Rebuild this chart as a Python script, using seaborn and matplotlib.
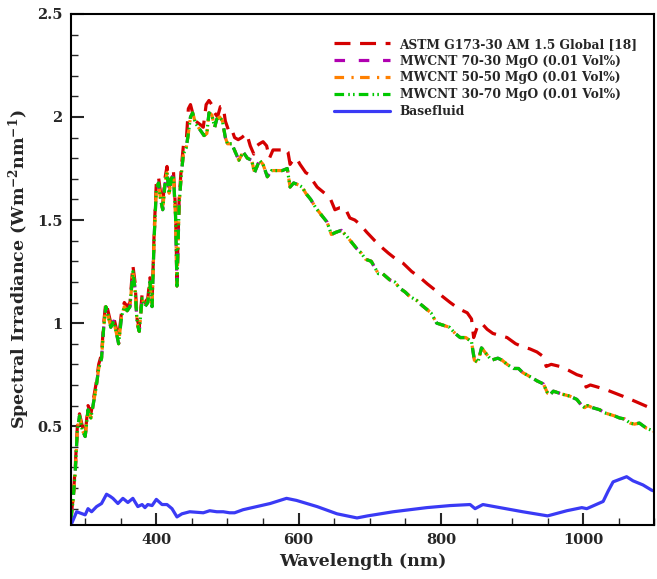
import numpy as np
import pandas as pd
import seaborn as sns
import matplotlib.pyplot as plt
from matplotlib.ticker import MultipleLocator, FuncFormatter

# Spectral irradiance (W m^-2 nm^-1)
astm_wl = [280, 283, 286, 289, 292, 296, 300, 304, 308, 311, 315, 319, 323, 326, 329, 332,
           336, 340, 344, 347, 351, 355, 359, 363, 367, 370, 373, 376, 380, 384, 388, 391,
           394, 397, 400, 403, 406, 409, 412, 415, 418, 421, 424, 427, 429, 432, 435, 438,
           442, 445, 448, 451, 455, 459, 463, 466, 470, 474, 478, 482, 486, 490, 494, 497,
           501, 505, 510, 515, 520, 527, 532, 537, 541, 545, 550, 555, 559, 564, 569, 575,
           580, 585, 588, 592, 597, 602, 606, 610, 615, 620, 626, 633, 640, 645, 651, 658,
           665, 672, 679, 686, 696, 707, 716, 726, 737, 747, 759, 771, 781, 792, 802, 813,
           825, 837, 843, 846, 851, 857, 865, 873, 883, 893, 905, 915, 925, 935, 943, 948,
           955, 967, 980, 991, 1000, 1004, 1010, 1020, 1030, 1045, 1056, 1070, 1080, 1090, 1100]
astm_irr = [0.06, 0.15, 0.30, 0.50, 0.56, 0.50, 0.46, 0.60, 0.56, 0.62, 0.70, 0.80, 0.85, 1.00, 1.10, 1.06,
            1.00, 1.03, 0.97, 0.93, 1.05, 1.10, 1.08, 1.10, 1.28, 1.20, 1.02, 0.98, 1.14, 1.10, 1.12, 1.22,
            1.10, 1.45, 1.68, 1.71, 1.63, 1.58, 1.70, 1.76, 1.66, 1.72, 1.74, 1.55, 1.20, 1.60, 1.75, 1.86,
            1.88, 2.04, 2.06, 2.02, 1.98, 1.97, 1.96, 1.95, 2.06, 2.08, 2.06, 2.02, 2.00, 2.05, 2.05, 1.98,
            1.94, 1.95, 1.90, 1.89, 1.90, 1.92, 1.86, 1.82, 1.86, 1.87, 1.88, 1.86, 1.80, 1.84, 1.84, 1.84,
            1.85, 1.83, 1.77, 1.79, 1.80, 1.77, 1.75, 1.73, 1.72, 1.69, 1.66, 1.64, 1.62, 1.60, 1.55, 1.56,
            1.56, 1.51, 1.50, 1.48, 1.44, 1.40, 1.37, 1.34, 1.31, 1.29, 1.25, 1.22, 1.19, 1.16, 1.13, 1.10,
            1.07, 1.05, 1.02, 0.93, 0.98, 1.00, 0.97, 0.95, 0.94, 0.93, 0.90, 0.885, 0.875, 0.86, 0.84, 0.79,
            0.80, 0.79, 0.77, 0.75, 0.74, 0.69, 0.70, 0.69, 0.68, 0.66, 0.645, 0.625, 0.61, 0.595, 0.58]

mwcnt_wl = [280, 283, 286, 289, 292, 296, 300, 304, 308, 311, 315, 319, 323, 326, 329, 332,
            336, 340, 344, 347, 351, 355, 359, 363, 367, 370, 373, 376, 380, 384, 388, 391,
            394, 397, 400, 403, 406, 409, 412, 415, 418, 421, 424, 427, 429, 432, 435, 438,
            442, 445, 448, 451, 455, 459, 463, 467, 471, 474, 478, 482, 485, 489, 493, 497,
            500, 506, 511, 516, 522, 528, 534, 538, 545, 550, 556, 562, 570, 577, 584, 588,
            593, 600, 605, 610, 617, 624, 633, 640, 646, 652, 660, 668, 675, 682, 688, 694,
            702, 712, 718, 728, 735, 742, 750, 756, 766, 772, 779, 786, 794, 803, 812, 820,
            827, 835, 843, 847, 852, 857, 864, 871, 880, 886, 893, 902, 909, 915, 928, 935,
            944, 950, 954, 958, 971, 981, 991, 998, 1002, 1006, 1013, 1023, 1030, 1044, 1051,
            1058, 1066, 1072, 1079, 1089, 1100]
mwcnt_7030 = [0.05, 0.14, 0.28, 0.48, 0.55, 0.48, 0.45, 0.58, 0.54, 0.60, 0.68, 0.78, 0.83, 0.98, 1.08, 1.04,
              0.98, 1.01, 0.95, 0.90, 1.03, 1.08, 1.06, 1.08, 1.25, 1.17, 1.00, 0.96, 1.12, 1.08, 1.10, 1.20,
              1.08, 1.42, 1.65, 1.68, 1.60, 1.55, 1.67, 1.73, 1.63, 1.70, 1.72, 1.52, 1.18, 1.57, 1.72, 1.82,
              1.85, 1.92, 2.00, 2.02, 1.97, 1.95, 1.93, 1.91, 1.92, 2.02, 2.01, 1.95, 1.99, 2.00, 1.98, 1.90,
              1.87, 1.87, 1.83, 1.79, 1.83, 1.80, 1.79, 1.73, 1.79, 1.77, 1.71, 1.74, 1.74, 1.74, 1.75, 1.66,
              1.68, 1.67, 1.66, 1.63, 1.60, 1.56, 1.52, 1.49, 1.43, 1.44, 1.45, 1.42, 1.39, 1.36, 1.34, 1.31,
              1.30, 1.24, 1.24, 1.21, 1.20, 1.17, 1.15, 1.13, 1.11, 1.09, 1.07, 1.05, 1.00, 0.99, 0.98, 0.95,
              0.93, 0.93, 0.91, 0.82, 0.81, 0.88, 0.85, 0.82, 0.83, 0.82, 0.80, 0.78, 0.78, 0.76, 0.735, 0.72,
              0.705, 0.66, 0.655, 0.67, 0.655, 0.646, 0.63, 0.60, 0.59, 0.60, 0.59, 0.58, 0.565, 0.55, 0.54,
              0.535, 0.515, 0.51, 0.515, 0.49, 0.475]
# the three hybrid nanofluid curves overlap in the picture
mwcnt_5050 = list(mwcnt_7030)
mwcnt_3070 = list(mwcnt_7030)

base_wl = [280, 288, 300, 304, 309, 316, 323, 330, 335, 339, 346, 353, 360, 367, 374, 380,
           384, 388, 394, 400, 408, 415, 422, 429, 436, 447, 466, 475, 485, 494, 503, 510,
           522, 541, 560, 583, 597, 626, 654, 682, 697, 733, 780, 813, 841, 848, 859, 883,
           915, 950, 977, 998, 1005, 1028, 1035, 1042, 1061, 1070, 1084, 1096, 1100]
base_irr = [0.02, 0.085, 0.07, 0.10, 0.085, 0.11, 0.125, 0.17, 0.16, 0.15, 0.125, 0.15, 0.13, 0.15, 0.11, 0.12,
            0.105, 0.12, 0.115, 0.145, 0.12, 0.12, 0.10, 0.06, 0.075, 0.085, 0.08, 0.09, 0.085, 0.085, 0.08, 0.08,
            0.095, 0.11, 0.125, 0.15, 0.14, 0.11, 0.075, 0.055, 0.065, 0.085, 0.105, 0.115, 0.12, 0.10, 0.12, 0.105,
            0.085, 0.065, 0.09, 0.105, 0.10, 0.135, 0.185, 0.23, 0.255, 0.235, 0.215, 0.19, 0.185]

labels = ['ASTM G173-30 AM 1.5 Global [18]', 'MWCNT 70-30 MgO (0.01 Vol%)',
          'MWCNT 50-50 MgO (0.01 Vol%)', 'MWCNT 30-70 MgO (0.01 Vol%)', 'Basefluid']

sns.set_style('ticks')
plt.rcParams['font.family'] = ['DejaVu Serif']
plt.rcParams['font.weight'] = 'bold'
plt.rcParams['mathtext.fontset'] = 'dejavuserif'
plt.rcParams['mathtext.default'] = 'bf'

fig = plt.figure(figsize=(6.57, 5.79), dpi=100)
ax = fig.add_axes([0.108, 0.093, 0.888, 0.883])

series = [
    (astm_wl, astm_irr, '#d40000', (0, (5.0, 3.0))),
    (mwcnt_wl, mwcnt_7030, '#b000b0', (0, (3.3, 4.3))),
    (mwcnt_wl, mwcnt_5050, '#ff8000', (0, (3.0, 2.3, 0.7, 2.0))),
    (mwcnt_wl, mwcnt_3070, '#00c800', (0, (3.0, 1.3, 0.5, 1.0, 0.5, 1.3))),
    (base_wl, base_irr, '#3a3af5', '-'),
]
for (x, y, c, ls), lab in zip(series, labels):
    sns.lineplot(x=x, y=y, ax=ax, color=c, linestyle=ls, linewidth=2.3, label=lab)

ax.set_xlim(280, 1100)
ax.set_ylim(0.02, 2.5)
ax.xaxis.set_major_locator(MultipleLocator(200))
ax.xaxis.set_minor_locator(MultipleLocator(50))
ax.yaxis.set_major_locator(MultipleLocator(0.5))
ax.yaxis.set_minor_locator(MultipleLocator(0.1))
ax.yaxis.set_major_formatter(FuncFormatter(lambda v, p: '%g' % v))
ax.tick_params(which='both', bottom=True, left=True, top=False, right=False, direction='in')
ax.tick_params(which='major', length=9, width=1.5, labelsize=10.5, pad=6)
ax.tick_params(which='minor', length=5, width=1)
for s in ax.spines.values():
    s.set_visible(True)
    s.set_linewidth(1.5)
    s.set_color('black')

ax.set_xlabel('Wavelength (nm)', fontsize=12.5, fontweight='bold')
ax.set_ylabel('Spectral Irradiance (Wm$^{-2}$nm$^{-1}$)', fontsize=12.5, fontweight='bold')

leg = ax.legend(loc='upper right', bbox_to_anchor=(0.99, 0.975), frameon=False,
                fontsize=8.8, handlelength=4.6, labelspacing=0.32, handletextpad=0.8)
for t in leg.get_texts():
    t.set_fontweight('bold')

fig.savefig('out.png', dpi=100)
